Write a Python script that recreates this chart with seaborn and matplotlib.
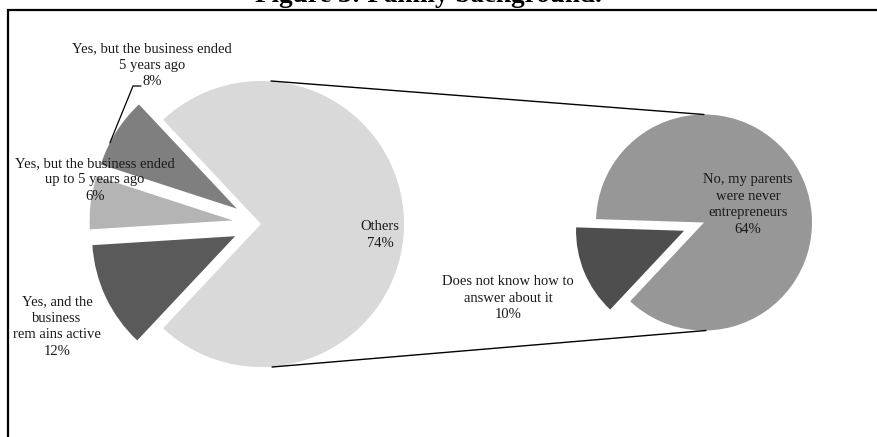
import matplotlib
matplotlib.use("Agg")
import matplotlib.pyplot as plt
from matplotlib.patches import Rectangle
import numpy as np
import seaborn as sns

# Family background: first pie (Yes-answers + "Others"), second pie breaks "Others" down
primary_labels = [
    "Yes, but the business ended\n5 years ago",
    "Yes, but the business ended\nup to 5 years ago",
    "Yes, and the\nbusiness\nrem ains active",
]
primary_values = [8, 6, 12]

secondary_labels = [
    "Does not know how to\nanswer about it",
    "No, my parents\nwere never\nentrepreneurs",
]
secondary_values = [10, 64]

others_label = "Others"
others_value = sum(secondary_values)

primary_colors = ["#7f7f7f", "#b4b4b4", "#5a5a5a", "#d9d9d9"]
secondary_colors = ["#4e4e4e", "#979797"]

sns.set_theme(style="white")
plt.rcParams["font.family"] = ["Liberation Serif", "DejaVu Serif"]

W, H = 878, 437
fig = plt.figure(figsize=(W / 100, H / 100), dpi=100)
ax = fig.add_axes([0, 0, 1, 1])

EXPL = 0.2  # explode distance as a fraction of the radius

# first pie: "Others" centred on the right, the Yes-answers pulled out on the left
c1, r1 = (261, H - 224), 143
pv = primary_values + [others_value]
start1 = 360 * others_value / 100 / 2
w1, _ = ax.pie(pv, colors=primary_colors, startangle=start1, counterclock=True,
               explode=[EXPL * r1] * len(primary_values) + [0], center=c1, radius=r1,
               wedgeprops=dict(linewidth=0), frame=True)

# second pie: breakdown of "Others", small slice pulled out to the lower left
c2, r2 = (704, H - 222.5), 108
start2 = 178.2
w2, _ = ax.pie(secondary_values, colors=secondary_colors, startangle=start2,
               counterclock=True, explode=[EXPL * r2, 0], center=c2, radius=r2,
               wedgeprops=dict(linewidth=0), frame=True)

# connector lines between the two pies
ax.plot([c1[0] + 10, c2[0]], [c1[1] + r1, c2[1] + r2], color="black", lw=1.0)
ax.plot([c1[0] + 11, c2[0] + 2], [c1[1] - r1, c2[1] - r2], color="black", lw=1.0)

fs = 10.5
tk = dict(ha="center", va="center", fontsize=fs, color="#1a1a1a", linespacing=1.35)

def pct(v):
    return f"{v}%"

ax.text(152, H - 65, f"{primary_labels[0]}\n{pct(primary_values[0])}", **tk)
ax.text(95, H - 180, f"{primary_labels[1]}\n{pct(primary_values[1])}", **tk)
ax.text(57, H - 326.5, f"{primary_labels[2]}\n{pct(primary_values[2])}", **tk)
ax.text(380, H - 235, f"{others_label}\n{pct(others_value)}", **tk)
ax.text(748, H - 204.5, f"{secondary_labels[1]}\n{pct(secondary_values[1])}", **tk)
ax.text(508, H - 298, f"{secondary_labels[0]}\n{pct(secondary_values[0])}", **tk)

# leader line from the 8% label to its wedge
wd = w1[0]
th = np.deg2rad(0.5 * (wd.theta1 + wd.theta2) + 5)
tip = (wd.center[0] + wd.r * np.cos(th), wd.center[1] + wd.r * np.sin(th))
ax.plot([141, 133, tip[0]], [H - 86, H - 86, tip[1]], color="black", lw=0.9)

# chart frame and title
ax.add_patch(Rectangle((8, -20), 900, H - 10 + 20, fill=False, edgecolor="black",
                       lw=1.6, clip_on=False))
ax.text(428, H - 2, "Figure 3: Family background.", ha="center", va="baseline",
        fontsize=19.5, fontweight="bold", color="black")

ax.set_xlim(0, W)
ax.set_ylim(0, H)
ax.set_aspect("equal")
ax.axis("off")

fig.savefig("out.png", dpi=100)
